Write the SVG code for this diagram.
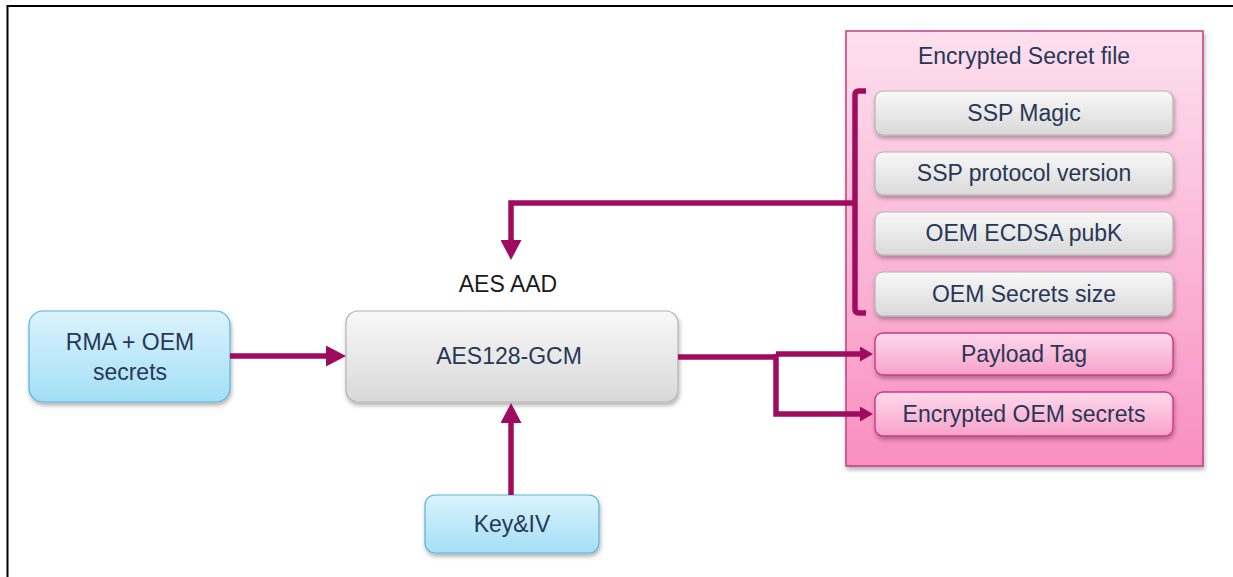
<svg xmlns="http://www.w3.org/2000/svg" width="1233" height="577" viewBox="0 0 1233 577">
  <defs>
    <linearGradient id="gGray" x1="0" y1="0" x2="0" y2="1">
      <stop offset="0" stop-color="#f8f8f8"/>
      <stop offset="1" stop-color="#d9d9d9"/>
    </linearGradient>
    <linearGradient id="gBlue" x1="0" y1="0" x2="0" y2="1">
      <stop offset="0" stop-color="#dbf3fd"/>
      <stop offset="1" stop-color="#a3dff7"/>
    </linearGradient>
    <linearGradient id="gPink" x1="0" y1="0" x2="0" y2="1">
      <stop offset="0" stop-color="#ffd9ec"/>
      <stop offset="1" stop-color="#f8a2ca"/>
    </linearGradient>
    <linearGradient id="gFile" x1="0" y1="0" x2="0" y2="1">
      <stop offset="0" stop-color="#fde0ef"/>
      <stop offset="1" stop-color="#f98fc0"/>
    </linearGradient>
    <filter id="shadow" x="-10%" y="-20%" width="130%" height="160%">
      <feDropShadow dx="1" dy="3" stdDeviation="2" flood-color="#000" flood-opacity="0.3"/>
    </filter>
    <marker id="arrowL" viewBox="0 0 20 21" markerUnits="userSpaceOnUse" markerWidth="20" markerHeight="21" refX="2" refY="10.5" orient="auto">
      <path d="M0,0 L20,10.5 L0,21 z" fill="#9e0b5f"/>
    </marker>
    <marker id="arrowS" viewBox="0 0 13 15" markerUnits="userSpaceOnUse" markerWidth="13" markerHeight="15" refX="2" refY="7.5" orient="auto">
      <path d="M0,0 L13,7.5 L0,15 z" fill="#9e0b5f"/>
    </marker>
  </defs>
  <style>
    .lbl { font-family: "Liberation Sans", Arial, sans-serif; font-size: 23px; fill: #283756; text-anchor: middle; }
    .plain { font-family: "Liberation Sans", Arial, sans-serif; font-size: 23px; fill: #1a1a1a; text-anchor: middle; }
    .gray { fill: url(#gGray); stroke: #b4b4b4; stroke-width: 1.2; filter: url(#shadow); }
    .blue { fill: url(#gBlue); stroke: #58b3dc; stroke-width: 1.2; filter: url(#shadow); }
    .pink { fill: url(#gPink); stroke: #cf3784; stroke-width: 1.4; filter: url(#shadow); }
    .wire { fill: none; stroke: #9e0b5f; stroke-width: 5.5; }
  </style>

  <rect width="1233" height="577" fill="#ffffff"/>

  <!-- frame -->
  <path d="M7.5,577 V6 H1233" fill="none" stroke="#000" stroke-width="2"/>

  <!-- encrypted secret file container -->
  <g id="secret-file">
    <rect x="846" y="31" width="357" height="435" fill="url(#gFile)" stroke="#c23f80" stroke-width="1.5" filter="url(#shadow)"/>
    <text class="lbl" x="1024" y="64">Encrypted Secret file</text>
  </g>

  <g id="ssp-magic">
    <rect class="gray" x="875" y="91" width="298" height="44" rx="8"/>
    <text class="lbl" x="1024" y="121">SSP Magic</text>
  </g>
  <g id="ssp-version">
    <rect class="gray" x="875" y="152" width="298" height="43" rx="8"/>
    <text class="lbl" x="1024" y="181">SSP protocol version</text>
  </g>
  <g id="oem-pubk">
    <rect class="gray" x="875" y="212" width="298" height="43" rx="8"/>
    <text class="lbl" x="1024" y="241">OEM ECDSA pubK</text>
  </g>
  <g id="oem-size">
    <rect class="gray" x="875" y="272" width="298" height="44" rx="8"/>
    <text class="lbl" x="1024" y="302">OEM Secrets size</text>
  </g>
  <g id="payload-tag">
    <rect class="pink" x="875" y="333" width="298" height="42" rx="8"/>
    <text class="lbl" x="1024" y="362">Payload Tag</text>
  </g>
  <g id="enc-secrets">
    <rect class="pink" x="875" y="392" width="298" height="44" rx="8"/>
    <text class="lbl" x="1024" y="422">Encrypted OEM secrets</text>
  </g>

  <g id="rma-oem">
    <rect class="blue" x="29" y="311" width="201" height="91" rx="14"/>
    <text class="lbl" x="130" y="350">RMA + OEM</text>
    <text class="lbl" x="130" y="380">secrets</text>
  </g>

  <g id="aes-gcm">
    <rect class="gray" x="346" y="311" width="332" height="91" rx="12"/>
    <text class="lbl" x="509" y="364">AES128-GCM</text>
  </g>

  <g id="aes-aad">
    <text class="plain" x="508" y="292">AES AAD</text>
  </g>

  <g id="key-iv">
    <rect class="blue" x="425" y="495" width="174" height="58" rx="10"/>
    <text class="lbl" x="512" y="532">Key&amp;IV</text>
  </g>

  <!-- connectors -->
  <g id="connectors">
    <path class="wire" d="M866,91 H859 Q855,91 855,95 V309 Q855,313 859,313 H866" stroke-width="4.5"/>
    <path class="wire" d="M855,203 H511 V242" marker-end="url(#arrowL)"/>
    <path class="wire" d="M230,356 H328" marker-end="url(#arrowL)"/>
    <path class="wire" d="M511,495 V421" marker-end="url(#arrowL)"/>
    <path class="wire" d="M678,357 H778"/>
    <path class="wire" d="M776,354 H862" marker-end="url(#arrowS)"/>
    <path class="wire" d="M776,354 V414 H862" marker-end="url(#arrowS)"/>
  </g>
</svg>
